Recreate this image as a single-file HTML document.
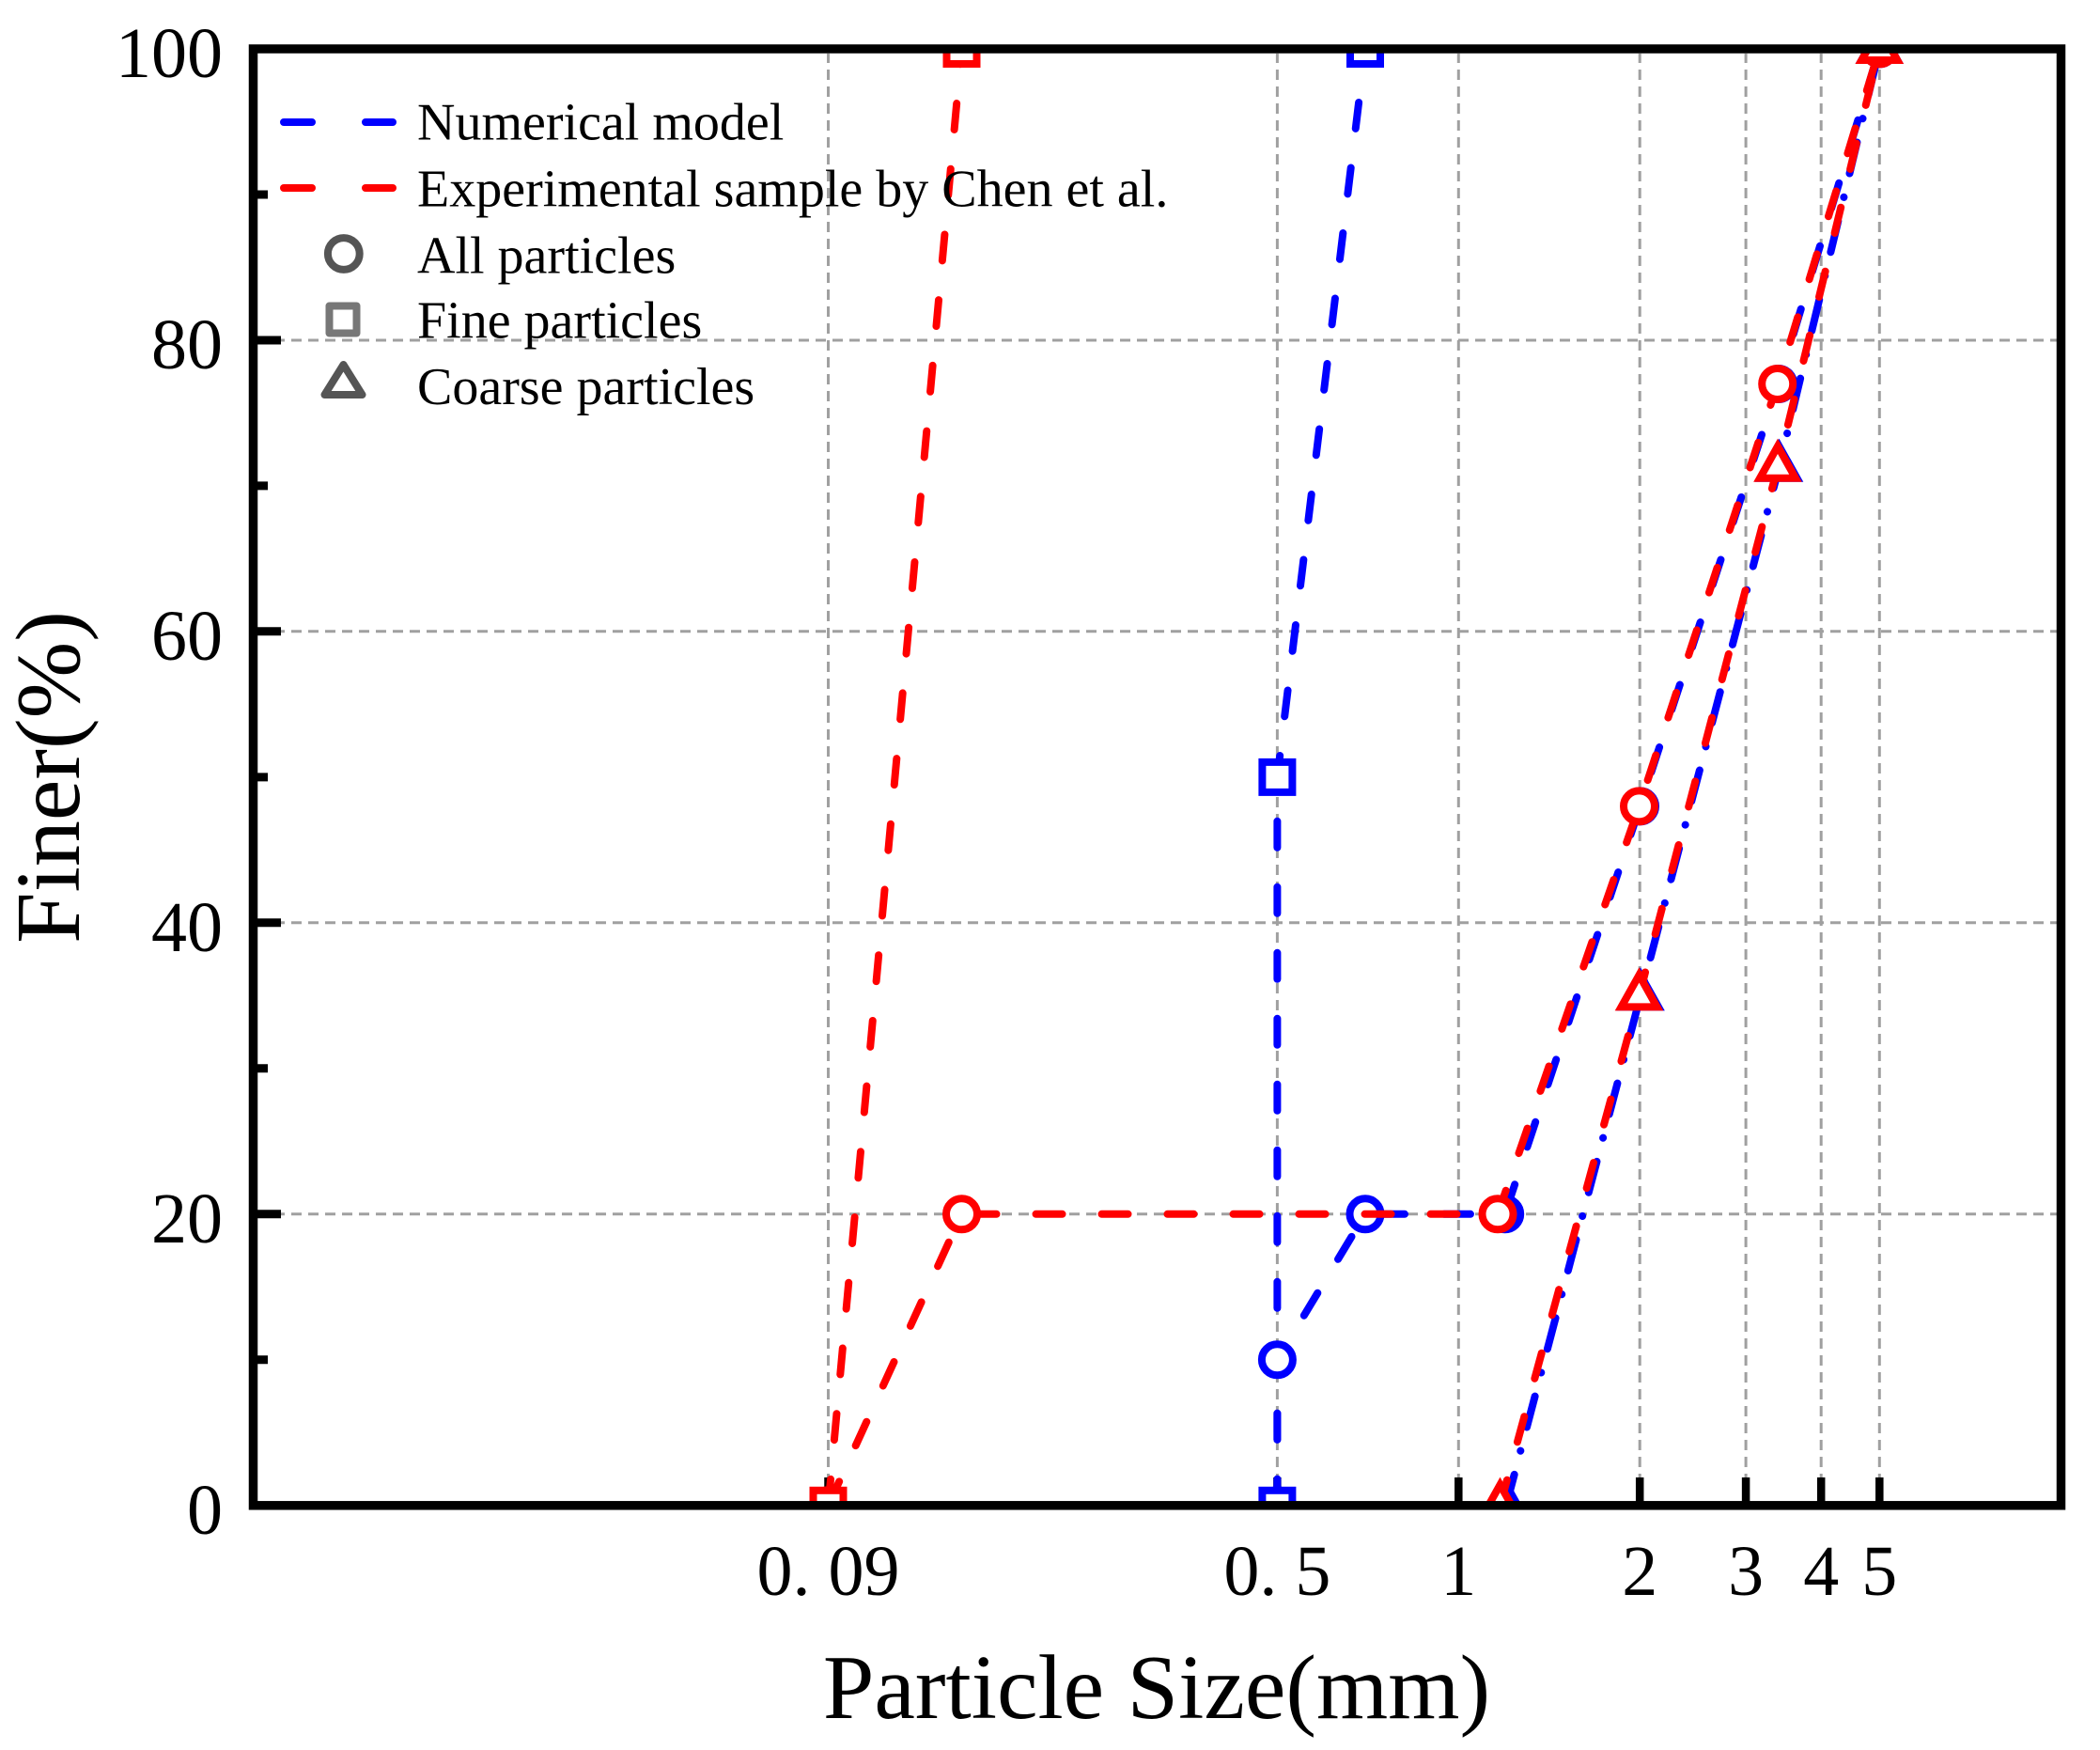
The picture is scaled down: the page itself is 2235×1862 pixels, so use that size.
<!DOCTYPE html>
<html>
<head>
<meta charset="utf-8">
<style>
  html, body { margin: 0; padding: 0; background: #ffffff; }
  svg { display: block; }
  text { font-family: "Liberation Serif", "Times New Roman", serif; fill: #000; }
</style>
</head>
<body>
<svg width="2235" height="1862" viewBox="0 0 2235 1862" xmlns="http://www.w3.org/2000/svg">
  <rect x="0" y="0" width="2235" height="1862" fill="#ffffff"/>
  <defs>
    <clipPath id="plot">
      <rect x="269.5" y="52" width="1924" height="1549.8"/>
    </clipPath>
  </defs>

  <!-- Grid lines -->
  <g stroke="#a0a0a0" stroke-width="3" stroke-dasharray="11 7" fill="none">
    <line x1="274" y1="1291.8" x2="2189" y2="1291.8"/>
    <line x1="274" y1="981.8" x2="2189" y2="981.8"/>
    <line x1="274" y1="671.8" x2="2189" y2="671.8"/>
    <line x1="274" y1="362" x2="2189" y2="362"/>
    <line x1="881.5" y1="1597" x2="881.5" y2="57"/>
    <line x1="1359.4" y1="1597" x2="1359.4" y2="57"/>
    <line x1="1552.3" y1="1597" x2="1552.3" y2="57"/>
    <line x1="1745.2" y1="1597" x2="1745.2" y2="57"/>
    <line x1="1858.1" y1="1597" x2="1858.1" y2="57"/>
    <line x1="1938.2" y1="1597" x2="1938.2" y2="57"/>
    <line x1="2000.3" y1="1597" x2="2000.3" y2="57"/>
  </g>

  <!-- Ticks -->
  <g stroke="#000" stroke-width="9">
    <line x1="265" y1="1291.8" x2="299" y2="1291.8"/>
    <line x1="265" y1="981.8" x2="299" y2="981.8"/>
    <line x1="265" y1="671.8" x2="299" y2="671.8"/>
    <line x1="265" y1="362" x2="299" y2="362"/>
    <line x1="265" y1="1446.8" x2="285" y2="1446.8"/>
    <line x1="265" y1="1136.8" x2="285" y2="1136.8"/>
    <line x1="265" y1="826.9" x2="285" y2="826.9"/>
    <line x1="265" y1="516.9" x2="285" y2="516.9"/>
    <line x1="265" y1="207" x2="285" y2="207"/>
  </g>
  <g stroke="#000" stroke-width="8.5">
    <line x1="881.5" y1="1606" x2="881.5" y2="1572"/>
    <line x1="1359.4" y1="1606" x2="1359.4" y2="1572"/>
    <line x1="1552.3" y1="1606" x2="1552.3" y2="1572"/>
    <line x1="1745.2" y1="1606" x2="1745.2" y2="1572"/>
    <line x1="1858.1" y1="1606" x2="1858.1" y2="1572"/>
    <line x1="1938.2" y1="1606" x2="1938.2" y2="1572"/>
    <line x1="2000.3" y1="1606" x2="2000.3" y2="1572"/>
  </g>

  <g clip-path="url(#plot)">
    <!-- Blue (Numerical model) lines -->
    <g fill="none" stroke="#0000ff" stroke-width="8" stroke-linecap="round" stroke-linejoin="round">
      <path d="M1359.4,1601.8 L1359.4,826.9 L1453,52" stroke-dasharray="28 42"/>
      <path d="M1359.4,1601.8 L1359.4,1446.8 L1453,1291.8 L1601.7,1291.8 L1745.5,857.9 L1892.7,408.5 L2000.3,52" stroke-dasharray="28 42"/>
      <path d="M1603,1601.8 L1746,1059.4 L1893.5,496.8 L2000.3,52" stroke-dasharray="34 26 0.1 26"/>
    </g>
    <!-- Blue markers -->
    <g fill="#ffffff" stroke="#0000ff" stroke-width="8">
      <circle cx="1359.4" cy="1601.8" r="16.5"/>
      <circle cx="1359.4" cy="1446.8" r="16.5"/>
      <circle cx="1453" cy="1291.8" r="16.5"/>
      <circle cx="1601.7" cy="1291.8" r="16.5"/>
      <circle cx="1745.5" cy="857.9" r="16.5"/>
      <circle cx="1892.7" cy="408.5" r="16.5"/>
      <circle cx="2000.3" cy="52" r="16.5"/>
      <rect x="1343.4" y="1585.8" width="32" height="32"/>
      <rect x="1343.4" y="810.9" width="32" height="32"/>
      <rect x="1437" y="36" width="32" height="32"/>
      <path d="M1603,1579.8 L1622,1613.8 L1584,1613.8 Z"/>
      <path d="M1746,1037.4 L1765,1071.4 L1727,1071.4 Z"/>
      <path d="M1893.5,474.8 L1912.5,508.8 L1874.5,508.8 Z"/>
      <path d="M2000.3,30 L2019.3,64 L1981.3,64 Z"/>
    </g>

    <!-- Red (Experimental) lines -->
    <g fill="none" stroke="#ff0000" stroke-width="8" stroke-linecap="round" stroke-linejoin="round" stroke-dasharray="28 42">
      <path d="M881.5,1601.8 L1023.5,52"/>
      <path d="M881.5,1601.8 L1023.5,1291.8 L1594,1291.8 L1744.5,857.9 L1891.7,408.5 L2000.3,52"/>
      <path d="M1596.5,1601.8 L1744.5,1059.4 L1892,496.8 L2000.3,52"/>
    </g>
    <!-- Red markers -->
    <g fill="#ffffff" stroke="#ff0000" stroke-width="8">
      <circle cx="881.5" cy="1601.8" r="16.5"/>
      <circle cx="1023.5" cy="1291.8" r="16.5"/>
      <circle cx="1594" cy="1291.8" r="16.5"/>
      <circle cx="1744.5" cy="857.9" r="16.5"/>
      <circle cx="1891.7" cy="408.5" r="16.5"/>
      <circle cx="2000.3" cy="52" r="16.5"/>
      <rect x="865.5" y="1585.8" width="32" height="32"/>
      <rect x="1007.5" y="36" width="32" height="32"/>
      <path d="M1596.5,1579.8 L1615.5,1613.8 L1577.5,1613.8 Z"/>
      <path d="M1744.5,1037.4 L1763.5,1071.4 L1725.5,1071.4 Z"/>
      <path d="M1892,474.8 L1911,508.8 L1873,508.8 Z"/>
      <path d="M2000.3,30 L2019.3,64 L1981.3,64 Z"/>
    </g>
  </g>

  <!-- Axis box -->
  <rect x="269.5" y="52" width="1924" height="1549.8" fill="none" stroke="#000" stroke-width="9.5"/>

  <!-- Legend -->
  <g stroke-width="8" stroke-linecap="round">
    <line x1="302" y1="130" x2="332" y2="130" stroke="#0000ff"/>
    <line x1="389" y1="130" x2="418" y2="130" stroke="#0000ff"/>
    <line x1="302" y1="200" x2="332" y2="200" stroke="#ff0000"/>
    <line x1="389" y1="200" x2="418" y2="200" stroke="#ff0000"/>
  </g>
  <circle cx="365.8" cy="270" r="16.9" fill="#ffffff" stroke="#555555" stroke-width="8"/>
  <rect x="350.5" y="325.5" width="29" height="29" fill="#ffffff" stroke="#777777" stroke-width="8" stroke-linejoin="round"/>
  <path d="M365.5,388 L385.5,420 L345.5,420 Z" fill="#ffffff" stroke="#555555" stroke-width="8" stroke-linejoin="round"/>
  <g font-size="56">
    <text x="444" y="148.3">Numerical model</text>
    <text x="444" y="219.5">Experimental sample by Chen et al.</text>
    <text x="444" y="290.6">All particles</text>
    <text x="444" y="359.5">Fine particles</text>
    <text x="444" y="430">Coarse particles</text>
  </g>

  <!-- Y tick labels -->
  <g font-size="76" text-anchor="end">
    <text x="237" y="1631.8">0</text>
    <text x="237" y="1321.8">20</text>
    <text x="237" y="1011.8">40</text>
    <text x="237" y="701.8">60</text>
    <text x="237" y="392">80</text>
    <text x="237" y="82">100</text>
  </g>

  <!-- X tick labels -->
  <g font-size="76" text-anchor="middle">
    <text x="881.5" y="1697">0. 09</text>
    <text x="1359.4" y="1697">0. 5</text>
    <text x="1552.3" y="1697">1</text>
    <text x="1745.2" y="1697">2</text>
    <text x="1858.1" y="1697">3</text>
    <text x="1938.2" y="1697">4</text>
    <text x="2000.3" y="1697">5</text>
  </g>

  <!-- Axis titles -->
  <text x="1231" y="1828" font-size="98" text-anchor="middle">Particle Size(mm)</text>
  <text transform="translate(84,827) rotate(-90)" font-size="98" text-anchor="middle">Finer(%)</text>
</svg>
</body>
</html>
